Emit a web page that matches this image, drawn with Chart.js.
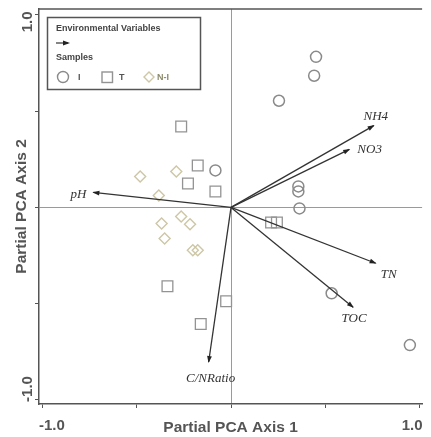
<!DOCTYPE html>
<html>
<head>
<meta charset="utf-8">
<script src="https://cdn.jsdelivr.net/npm/chart.js@4/dist/chart.umd.min.js"></script>
<style>
  html, body { margin: 0; padding: 0; background: #fff; }
  #wrap { width: 431px; height: 437px; }
</style>
</head>
<body>
<div id="wrap"><canvas id="pca" width="431" height="437"></canvas></div>
<script>
// environmental variable arrows (axis 1, axis 2)
const envNames = ['NH4', 'NO3', 'TN', 'TOC', 'C/NRatio', 'pH'];
const envX = [0.759, 0.629, 0.769, 0.649, -0.119, -0.732];
const envY = [0.425, 0.301, -0.290, -0.518, -0.803, 0.078];

// samples
const iX = [0.452, 0.442, 0.255, -0.083, 0.358, 0.358, 0.364, 0.535, 0.951];
const iY = [0.782, 0.684, 0.554, 0.192, 0.109, 0.083, -0.005, -0.446, -0.715];
const tX = [-0.265, -0.177, -0.229, -0.083, 0.213, 0.244, -0.026, -0.338, -0.161];
const tY = [0.420, 0.218, 0.124, 0.083, -0.078, -0.078, -0.487, -0.409, -0.606];
const niX = [-0.483, -0.291, -0.384, -0.369, -0.265, -0.218, -0.353, -0.203, -0.177];
const niY = [0.161, 0.187, 0.062, -0.083, -0.047, -0.088, -0.161, -0.223, -0.223];

const axisTicks = [-1.0, 1.0];

const toPts = (xs, ys) => xs.map((x, i) => ({ x: x, y: ys[i] }));

// label placement relative to arrow head (px), same order as envNames
const labelStyle = [
    { dx: 2, dy: -9, align: 'center' },
    { dx: 8, dy: 0, align: 'left' },
    { dx: 13, dy: 11, align: 'center' },
    { dx: 1, dy: 11, align: 'center' },
    { dx: 2, dy: 17, align: 'center' },
    { dx: -7, dy: 2, align: 'right' }
];

const arrowSets = envNames.map((name, i) => ({
    label: name,
    data: [{ x: 0, y: 0 }, { x: envX[i], y: envY[i] }],
    showLine: true,
    borderColor: '#333',
    borderWidth: 1.3,
    pointRadius: 0,
    order: 0
}));

const sampleSets = [
    { label: 'I', data: toPts(iX, iY), pointStyle: 'circle', pointRadius: 5.5,
      borderColor: '#8a8a8a', borderWidth: 1.5, backgroundColor: 'rgba(0,0,0,0)', order: 1 },
    { label: 'T', data: toPts(tX, tY), pointStyle: 'rect', pointRadius: 7.6,
      borderColor: '#939393', borderWidth: 1.3, backgroundColor: 'rgba(0,0,0,0)', order: 1 },
    { label: 'N-I', data: toPts(niX, niY), pointStyle: 'rectRot', pointRadius: 5.5,
      borderColor: '#cdc7a6', borderWidth: 1.4, backgroundColor: 'rgba(0,0,0,0)', order: 1 }
];

function drawHead(ctx, x0, y0, x1, y1) {
    const a = Math.atan2(y1 - y0, x1 - x0);
    const len = 6, w = 2.4;
    ctx.beginPath();
    ctx.moveTo(x1 + Math.cos(a) * 1, y1 + Math.sin(a) * 1);
    ctx.lineTo(x1 - Math.cos(a) * len - Math.sin(a) * w, y1 - Math.sin(a) * len + Math.cos(a) * w);
    ctx.lineTo(x1 - Math.cos(a) * len + Math.sin(a) * w, y1 - Math.sin(a) * len - Math.cos(a) * w);
    ctx.closePath();
    ctx.fill();
}

const pcaDecor = {
    id: 'pcaDecor',
    afterDatasetsDraw(chart) {
        const ctx = chart.ctx;
        ctx.save();
        envNames.forEach((name, i) => {
            const pts = chart.getDatasetMeta(i).data;
            ctx.fillStyle = '#222';
            drawHead(ctx, pts[0].x, pts[0].y, pts[1].x, pts[1].y);
            const s = labelStyle[i];
            ctx.font = 'italic 13px "Liberation Serif"';
            ctx.textAlign = s.align;
            ctx.textBaseline = 'middle';
            ctx.fillStyle = '#333';
            ctx.fillText(name, pts[1].x + s.dx, pts[1].y + s.dy);
        });
        ctx.restore();
    },
    afterDraw(chart) {
        const ctx = chart.ctx;
        const area = chart.chartArea;
        const xs = chart.scales.x, ys = chart.scales.y;
        ctx.save();
        // top frame line
        ctx.strokeStyle = '#555';
        ctx.lineWidth = 1.5;
        ctx.beginPath();
        ctx.moveTo(area.left, area.top);
        ctx.lineTo(area.right, area.top);
        ctx.stroke();

        // tick labels, pulled inward like the original
        ctx.fillStyle = '#555';
        ctx.font = 'bold 15px "Liberation Sans"';
        ctx.textBaseline = 'middle';
        ctx.textAlign = 'center';
        ctx.fillText(axisTicks[0].toFixed(1), xs.getPixelForValue(axisTicks[0]) + 9, 426);
        ctx.fillText(axisTicks[1].toFixed(1), xs.getPixelForValue(axisTicks[1]) - 7, 426);
        [[axisTicks[0], -11], [axisTicks[1], 7]].forEach(([v, off]) => {
            ctx.save();
            ctx.translate(28, ys.getPixelForValue(v) + off);
            ctx.rotate(-Math.PI / 2);
            ctx.fillText(v.toFixed(1), 0, 0);
            ctx.restore();
        });

        // legend box
        ctx.strokeStyle = '#555';
        ctx.lineWidth = 1.5;
        ctx.strokeRect(47.5, 17.5, 153, 72);
        ctx.fillStyle = '#444';
        ctx.font = 'bold 9px "Liberation Sans"';
        ctx.textAlign = 'left';
        ctx.fillText('Environmental Variables', 56, 29);
        ctx.fillText('Samples', 56, 58);
        ctx.strokeStyle = '#333';
        ctx.lineWidth = 1.2;
        ctx.beginPath();
        ctx.moveTo(56, 43);
        ctx.lineTo(68, 43);
        ctx.stroke();
        ctx.fillStyle = '#222';
        drawHead(ctx, 56, 43, 69, 43);

        ctx.lineWidth = 1.4;
        ctx.strokeStyle = '#8a8a8a';
        ctx.beginPath();
        ctx.arc(63, 77, 5.5, 0, Math.PI * 2);
        ctx.stroke();
        ctx.strokeStyle = '#939393';
        ctx.strokeRect(102, 72, 10.5, 10.5);
        ctx.strokeStyle = '#cdc7a6';
        ctx.beginPath();
        ctx.moveTo(149, 72); ctx.lineTo(154, 77); ctx.lineTo(149, 82); ctx.lineTo(144, 77);
        ctx.closePath();
        ctx.stroke();
        ctx.font = 'bold 9px "Liberation Sans"';
        ctx.fillStyle = '#555';
        ctx.fillText('I', 78, 78);
        ctx.fillText('T', 119, 78);
        ctx.fillStyle = '#8c8a6a';
        ctx.fillText('N-I', 157, 78);
        ctx.restore();
    }
};

const gridOpts = {
    drawOnChartArea: true,
    color: c => (c.tick && c.tick.value === 0 ? '#9a9a9a' : 'rgba(0,0,0,0)'),
    tickColor: '#555',
    tickLength: 4,
    lineWidth: 1
};

new Chart(document.getElementById('pca'), {
    type: 'scatter',
    data: { datasets: arrowSets.concat(sampleSets) },
    options: {
        responsive: false,
        devicePixelRatio: 1,
        animation: false,
        layout: { padding: { top: 8, right: 0, left: 0, bottom: 0 } },
        plugins: { legend: { display: false }, tooltip: { enabled: false } },
        scales: {
            x: {
                type: 'linear',
                min: -1.021,
                max: 1.016,
                ticks: { display: false, stepSize: 0.5, includeBounds: false },
                grid: gridOpts,
                border: { display: true, color: '#555', width: 1.5 },
                title: {
                    display: true,
                    text: 'Partial PCA Axis 1',
                    color: '#555',
                    font: { family: '"Liberation Sans"', size: 15.5, weight: 'bold' },
                    padding: { top: 0, bottom: 0 }
                },
                afterFit: s => { s.height = 33; }
            },
            y: {
                type: 'linear',
                min: -1.021,
                max: 1.031,
                ticks: { display: false, stepSize: 0.5, includeBounds: false },
                grid: gridOpts,
                border: { display: true, color: '#555', width: 1.5 },
                title: {
                    display: true,
                    text: 'Partial PCA Axis 2',
                    color: '#555',
                    font: { family: '"Liberation Sans"', size: 15.5, weight: 'bold' },
                    padding: { top: 12, bottom: 0 }
                },
                afterFit: s => { s.width = 39; }
            }
        }
    },
    plugins: [pcaDecor]
});
</script>
</body>
</html>
